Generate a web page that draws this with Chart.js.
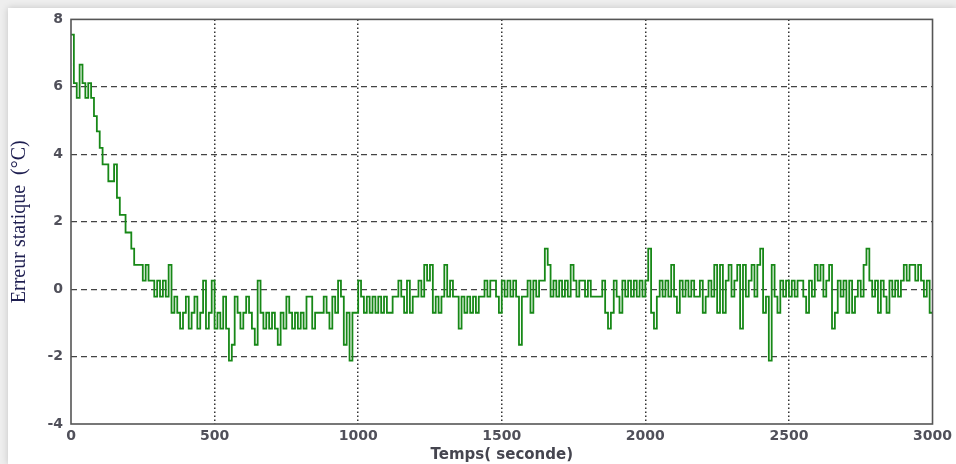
<!DOCTYPE html>
<html>
<head>
<meta charset="utf-8">
<script src="https://cdn.jsdelivr.net/npm/chart.js@4"></script>
<style>
  html, body { margin: 0; padding: 0; background: #eeeeee; }
  body { width: 956px; height: 464px; position: relative; overflow: hidden; }
  #panel {
    position: absolute; left: 8px; top: 8px; width: 948px; height: 456px;
    background: #ffffff; box-shadow: 0 0 7px rgba(0,0,0,0.18);
  }
  #c { position: absolute; left: 8px; top: 3px; display: block; }
</style>
</head>
<body>
<div id="panel"></div>
<canvas id="c" width="948" height="461"></canvas>
<script>
// Sampling period of the recorded error (s)
const SAMPLE_PERIOD = 10;

// Static error (°C), one value per sample, 100 s per row
const errorValues = [
  7.55, 6.11, 5.67, 6.66, 6.11, 5.67, 6.11, 5.67, 5.13, 4.68,
  4.19, 3.70, 3.70, 3.20, 3.20, 3.70, 2.71, 2.20, 2.20, 1.68,
  1.68, 1.20, 0.72, 0.72, 0.72, 0.25, 0.72, 0.25, 0.25, -0.22,
  0.25, -0.22, 0.25, -0.22, 0.72, -0.70, -0.22, -0.70, -1.17, -0.70,
  -0.22, -1.17, -0.70, -0.22, -1.17, -0.70, 0.25, -1.17, -0.70, 0.25,
  -1.17, -0.70, -1.17, -0.22, -1.17, -2.12, -1.65, -0.22, -0.70, -1.17,
  -0.70, -0.22, -0.70, -1.17, -1.65, 0.25, -0.70, -1.17, -0.70, -1.17,
  -0.70, -1.17, -1.65, -0.70, -1.17, -0.22, -0.70, -1.17, -0.70, -1.17,
  -0.70, -1.17, -0.22, -0.22, -1.17, -0.70, -0.70, -0.70, -0.22, -0.70,
  -1.17, -0.22, -0.70, 0.25, -0.22, -1.65, -0.70, -2.12, -0.70, -0.70,
  0.25, -0.22, -0.70, -0.22, -0.70, -0.22, -0.70, -0.22, -0.70, -0.22,
  -0.70, -0.70, -0.22, -0.22, 0.25, -0.22, -0.70, 0.25, -0.70, -0.22,
  -0.22, 0.25, -0.22, 0.72, 0.25, 0.72, -0.70, -0.22, -0.70, -0.22,
  0.72, -0.22, 0.25, -0.22, -0.22, -1.17, -0.22, -0.70, -0.22, -0.70,
  -0.22, -0.70, -0.22, -0.22, 0.25, -0.22, 0.25, 0.25, -0.22, -0.70,
  0.25, -0.22, 0.25, -0.22, 0.25, -0.22, -1.65, -0.22, -0.22, 0.25,
  -0.70, 0.25, -0.22, 0.25, 0.25, 1.20, 0.72, -0.22, 0.25, -0.22,
  0.25, -0.22, 0.25, -0.22, 0.72, 0.25, -0.22, 0.25, 0.25, -0.22,
  0.25, -0.22, -0.22, -0.22, -0.22, 0.25, -0.70, -1.17, -0.70, 0.25,
  -0.22, -0.70, 0.25, -0.22, 0.25, -0.22, 0.25, -0.22, 0.25, -0.22,
  0.25, 1.20, -0.70, -1.17, -0.22, 0.25, -0.22, 0.25, -0.22, 0.72,
  -0.22, -0.70, 0.25, -0.22, 0.25, -0.22, 0.25, -0.22, -0.22, 0.25,
  -0.70, -0.22, 0.25, -0.22, 0.72, -0.70, 0.72, -0.70, 0.25, 0.72,
  -0.22, 0.25, 0.72, -1.17, 0.72, -0.22, 0.25, 0.72, -0.22, 0.72,
  1.20, -0.70, -0.22, -2.12, 0.72, -0.22, -0.70, 0.25, -0.22, 0.25,
  -0.22, 0.25, -0.22, 0.25, 0.25, -0.22, -0.70, 0.25, -0.22, 0.72,
  0.25, 0.72, -0.22, 0.25, 0.72, -1.17, -0.70, 0.25, -0.22, 0.25,
  -0.70, 0.25, -0.70, -0.22, 0.25, -0.22, 0.72, 1.20, 0.25, -0.22,
  0.25, -0.70, 0.25, -0.22, -0.70, 0.25, -0.22, 0.25, -0.22, 0.25,
  0.72, 0.25, 0.72, 0.72, 0.25, 0.72, 0.25, -0.22, 0.25, -0.70,
  -0.70
];

// Axis tick values
const xTicks = [0, 500, 1000, 1500, 2000, 2500, 3000];
const yTicks = [-4, -2, 0, 2, 4, 6, 8];

const points = errorValues.map((v, i) => ({ x: i * SAMPLE_PERIOD, y: v }));

// Solid frame around the plotting area
const frameBox = {
  id: 'frameBox',
  afterDraw(chart) {
    const { ctx, chartArea: a } = chart;
    ctx.save();
    ctx.strokeStyle = '#555555';
    ctx.lineWidth = 1.6;
    ctx.strokeRect(a.left, a.top, a.right - a.left, a.bottom - a.top);
    ctx.restore();
  }
};

new Chart(document.getElementById('c'), {
  type: 'line',
  data: {
    datasets: [{
      data: points,
      stepped: true,
      borderColor: '#178817',
      borderWidth: 1.8,
      pointRadius: 0,
      fill: false
    }]
  },
  options: {
    responsive: false,
    animation: false,
    layout: { padding: { top: 3, right: 19, left: 0, bottom: 0 } },
    plugins: { legend: { display: false }, tooltip: { enabled: false } },
    scales: {
      x: {
        type: 'linear',
        min: 0, max: 3000,
        afterBuildTicks: s => { s.ticks = xTicks.map(v => ({ value: v })); },
        afterFit: s => { s.height = 40; },
        grid: {
          color: ctx => (ctx.tick.value === 0 || ctx.tick.value === 3000) ? 'rgba(0,0,0,0)' : '#333333',
          lineWidth: 1.5,
          drawTicks: false
        },
        border: { display: false, dash: [1.5, 2.5] },
        ticks: {
          padding: 4,
          maxRotation: 0,
          color: '#50505a',
          callback: v => String(v),
          font: { family: 'DejaVu Sans', size: 14, weight: 'bold' }
        },
        title: {
          display: true,
          text: 'Temps( seconde)',
          color: '#45454f',
          padding: { top: 0, bottom: 0 },
          font: { family: 'DejaVu Sans', size: 15, weight: 'bold' }
        }
      },
      y: {
        min: -4, max: 8,
        afterBuildTicks: s => { s.ticks = yTicks.map(v => ({ value: v })); },
        afterFit: s => { s.width = 63; },
        grid: {
          color: ctx => (ctx.tick.value === -4 || ctx.tick.value === 8) ? 'rgba(0,0,0,0)' : '#444444',
          lineWidth: 1.2,
          drawTicks: false
        },
        border: { display: false, dash: [6, 4] },
        ticks: {
          padding: 8,
          color: '#50505a',
          callback: v => String(v),
          font: { family: 'DejaVu Sans', size: 14, weight: 'bold' }
        },
        title: {
          display: true,
          text: 'Erreur statique  (°C)',
          color: '#1e1e50',
          padding: { top: 0, bottom: 2 },
          font: { family: 'Liberation Serif', size: 20 }
        }
      }
    }
  },
  plugins: [frameBox]
});
</script>
</body>
</html>
